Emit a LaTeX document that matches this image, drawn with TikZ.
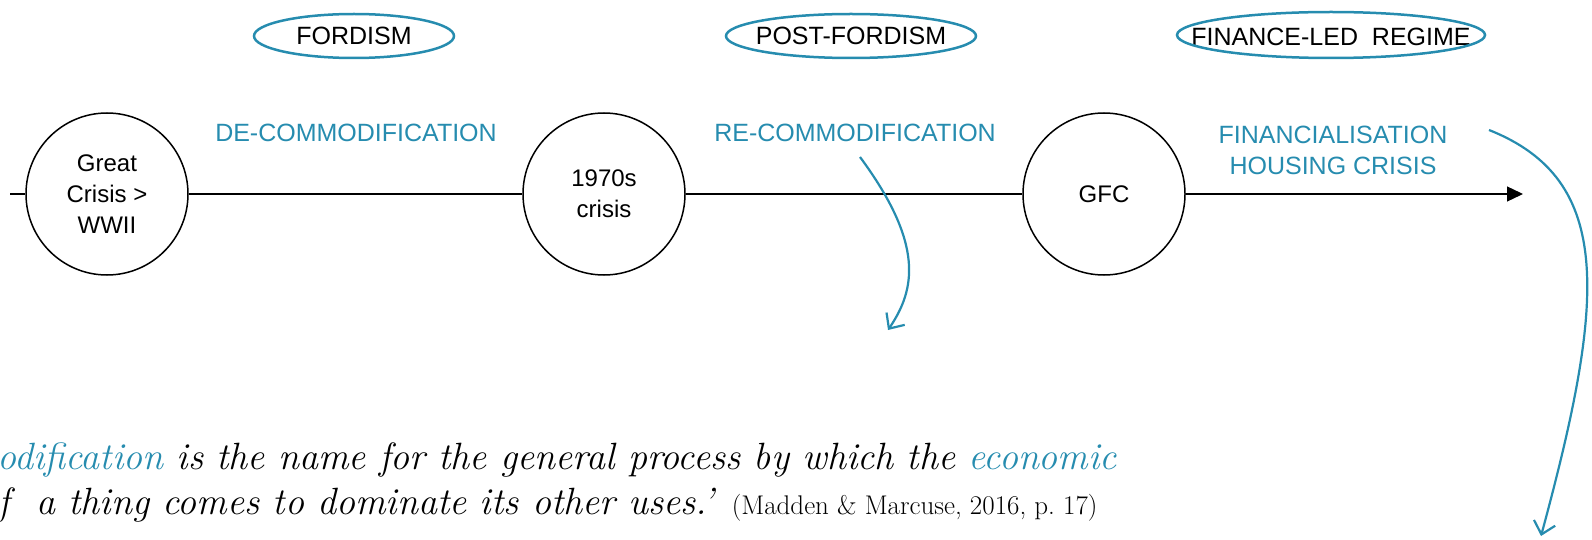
\documentclass[tikz,border=0pt]{standalone}
\usepackage{fontspec}
\newfontfamily\labelfont{Liberation Sans}
\usetikzlibrary{shapes, shapes.geometric, positioning, arrows.meta, calc}
\definecolor{petrol}{RGB}{38,140,175}

\begin{document}
\begin{tikzpicture}[x=1pt, y=-1pt,
  event/.style={draw, circle, line width=1.5pt, minimum size=162pt, inner sep=0pt, align=center, font=\labelfont\fontsize{24}{31}\selectfont},
  era/.style={inner sep=0pt, font=\labelfont\fontsize{25}{30}\selectfont},
  ring/.style={draw=petrol, line width=2.5pt},
  phase/.style={text=petrol, align=center, font=\labelfont\fontsize{25}{31}\selectfont},
  link/.style={draw=petrol, line width=2.2pt, -{Straight Barb[length=12pt, width=22pt]}},
  quote/.style={anchor=base west, inner sep=0pt, font=\itshape\fontsize{38}{46}\selectfont}]
\useasboundingbox (0,0) rectangle (1592,540);

\node[era] (ford) at (354,36) {FORDISM};
\node[era] (postford) at (851,36) {POST-FORDISM};
\node[era] (finled) at (1331,37) {FINANCE-LED\ \ REGIME};
\draw[ring] (ford.center) ellipse [x radius=100pt, y radius=22pt];
\draw[ring] (postford.center) ellipse [x radius=125pt, y radius=22pt];
\draw[ring] (1331,35) ellipse [x radius=154pt, y radius=23pt];

\node[event] (crisisA) at (107,194) {Great\\Crisis >\\WWII};
\node[event] (crisisB) at (604,194) {1970s\\crisis};
\node[event] (gfc) at (1104,194) {GFC};
\coordinate (start) at (10,194);
\coordinate (tip) at (1523,194);
\draw[line width=1.3pt] (start) -- (crisisA) (crisisA) -- (crisisB) (crisisB) -- (gfc);
\draw[line width=1.3pt, -{Triangle[length=16pt, width=15pt]}] (gfc) -- (tip);

\node[phase] (decom) at (356,133) {DE-COMMODIFICATION};
\node[phase] (recom) at (855,133) {RE-COMMODIFICATION};
\node[phase] (fin) at (1333,150) {FINANCIALISATION\\HOUSING CRISIS};

\coordinate (recomfoot) at (860,157);
\coordinate (recomend) at (888,330);
\draw[link] (recomfoot) .. controls (925,245) and (915,290) .. (recomend);
\coordinate (finfoot) at (1489,130);
\coordinate (finend) at (1541,536);
\draw[link] (finfoot) .. controls (1615,180) and (1605,300) .. (finend);

\node[quote] (quoteA) at (-3,469) {\textcolor{petrol}{odification} is the name for the general process by which the \textcolor{petrol}{economic}};
\node[quote] (quoteB) at (-2,514) {f\ \ a thing comes to dominate its other uses.’ {\upshape\fontsize{27}{30}\selectfont (Madden \& Marcuse, 2016, p.~17)}};
\end{tikzpicture}
\end{document}
